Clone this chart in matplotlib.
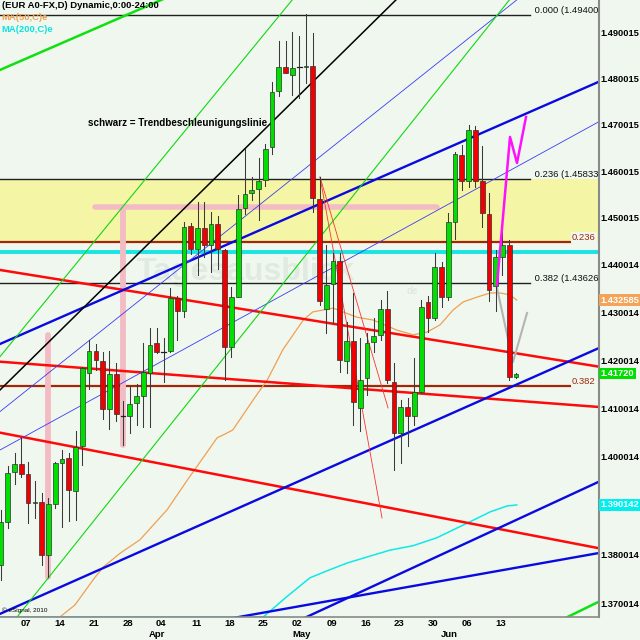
import numpy as np
import matplotlib
matplotlib.use("Agg")
import matplotlib.pyplot as plt
from matplotlib.transforms import blended_transform_factory
from matplotlib.ticker import NullLocator, NullFormatter

plt.rcParams['font.family'] = ['Liberation Sans', 'DejaVu Sans']
BG = "#eff7ef"

# ---------------- daily candles (bar index 0..76) ----------------
opens = [1.3779, 1.3866, 1.3969, 1.3984, 1.3965, 1.3904, 1.3908, 1.3799, 1.3903, 1.3988,
         1.3997, 1.3930, 1.4021, 1.4174, 1.4219, 1.4198, 1.4098, 1.4171, 1.4083, 1.4083,
         1.4110, 1.4126, 1.4174, 1.4236, 1.4218, 1.4219, 1.4331, 1.4304, 1.4483, 1.4433,
         1.4478, 1.4442, 1.4487, 1.4432, 1.4228, 1.4333, 1.4522, 1.4553, 1.4561, 1.4581,
         1.4651, 1.4773, 1.4825, 1.4808, 1.4825, 1.4825, 1.4828, 1.4540, 1.4308, 1.4359,
         1.4409, 1.4199, 1.4240, 1.4100, 1.4162, 1.4237, 1.4253, 1.4307, 1.4155, 1.4049,
         1.4103, 1.4084, 1.4134, 1.4321, 1.4289, 1.4396, 1.4333, 1.4492, 1.4635, 1.4579,
         1.4689, 1.4578, 1.4508, 1.4356, 1.4418, 1.4442, 1.4164]
highs = [1.3891, 1.3980, 1.4007, 1.4038, 1.3990, 1.3949, 1.3925, 1.3915, 1.3990, 1.4014,
         1.4007, 1.4052, 1.4186, 1.4242, 1.4234, 1.4218, 1.4219, 1.4194, 1.4115, 1.4147,
         1.4150, 1.4235, 1.4268, 1.4268, 1.4247, 1.4351, 1.4334, 1.4492, 1.4490, 1.4535,
         1.4535, 1.4513, 1.4504, 1.4434, 1.4354, 1.4549, 1.4647, 1.4588, 1.4628, 1.4658,
         1.4793, 1.4883, 1.4883, 1.4902, 1.4894, 1.4941, 1.4900, 1.4588, 1.4442, 1.4425,
         1.4425, 1.4279, 1.4340, 1.4246, 1.4256, 1.4288, 1.4326, 1.4346, 1.4194, 1.4117,
         1.4121, 1.4204, 1.4326, 1.4335, 1.4425, 1.4406, 1.4511, 1.4642, 1.4656, 1.4700,
         1.4697, 1.4654, 1.4553, 1.4432, 1.4493, 1.4453, 1.4174]
lows = [1.3749, 1.3854, 1.3944, 1.3959, 1.3864, 1.3874, 1.3779, 1.3755, 1.3894, 1.3857,
        1.3869, 1.3870, 1.3983, 1.4140, 1.4180, 1.4078, 1.4057, 1.4074, 1.4023, 1.4048,
        1.4065, 1.4062, 1.4062, 1.4215, 1.4155, 1.4217, 1.4242, 1.4291, 1.4423, 1.4379,
        1.4416, 1.4386, 1.4391, 1.4159, 1.4207, 1.4332, 1.4508, 1.4538, 1.4496, 1.4568,
        1.4637, 1.4762, 1.4812, 1.4764, 1.4757, 1.4790, 1.4513, 1.4316, 1.4256, 1.4278,
        1.4176, 1.4173, 1.4065, 1.4052, 1.4128, 1.4218, 1.4242, 1.4152, 1.3973, 1.3986,
        1.4021, 1.4065, 1.4131, 1.4258, 1.4284, 1.4312, 1.4326, 1.4455, 1.4560, 1.4567,
        1.4567, 1.4481, 1.4323, 1.4302, 1.4379, 1.4159, 1.4163]
closes = [1.3867, 1.3967, 1.3984, 1.3965, 1.3904, 1.3908, 1.3799, 1.3902, 1.3986, 1.3995,
          1.3932, 1.4019, 1.4183, 1.4219, 1.4200, 1.4098, 1.4171, 1.4088, 1.4083, 1.4109,
          1.4125, 1.4175, 1.4232, 1.4218, 1.4218, 1.4331, 1.4304, 1.4481, 1.4433, 1.4478,
          1.4442, 1.4487, 1.4433, 1.4228, 1.4332, 1.4520, 1.4550, 1.4560, 1.4579, 1.4648,
          1.4770, 1.4825, 1.4812, 1.4823, 1.4825, 1.4828, 1.4542, 1.4323, 1.4357, 1.4409,
          1.4200, 1.4240, 1.4112, 1.4159, 1.4235, 1.4251, 1.4307, 1.4159, 1.4049, 1.4103,
          1.4083, 1.4134, 1.4311, 1.4289, 1.4396, 1.4333, 1.4491, 1.4636, 1.4579, 1.4689,
          1.4578, 1.4510, 1.4347, 1.4416, 1.4442, 1.4164, 1.4172]

# ---------------- moving averages (read at sample bars) ----------------
ma50_x = [-1.0, 8.7, 10.9, 13.6, 15.1, 17.6, 20.5, 24.5, 27.5, 31.9, 33.1, 34.2, 37.2, 39.3,
          41.6, 44.6, 46.0, 49.0, 52.5, 54.9, 58.4, 60.8, 62.9, 64.8, 66.7, 68.2, 70.2,
          72.2, 73.6, 75.1, 76.1]
ma50_y = [1.3674, 1.3674, 1.3698, 1.3749, 1.3775, 1.3803, 1.3830, 1.3891, 1.3952, 1.4039,
          1.4047, 1.4055, 1.4117, 1.4159, 1.4222, 1.4284, 1.4301, 1.4309, 1.4290, 1.4284,
          1.4263, 1.4253, 1.4259, 1.4274, 1.4305, 1.4322, 1.4332, 1.4341, 1.4341, 1.4337,
          1.4326]
ma200_x = [-1.0, 38.7, 40.4, 42.1, 43.8, 45.6, 48.1, 51.1, 54.0, 57.4, 60.8, 64.3, 67.3,
           69.7, 72.2, 74.7, 76.1]
ma200_y = [1.3674, 1.3674, 1.3694, 1.3714, 1.3733, 1.3753, 1.3767, 1.3783, 1.3795, 1.3809,
           1.3818, 1.3834, 1.3854, 1.3870, 1.3887, 1.3899, 1.3901]

# ---------------- drawings ----------------
fib_black_levels = [1.494005, 1.458336, 1.436269]
fib_black_names = ["0.000", "0.236", "0.382"]
fib_brown_levels = [1.44495, 1.41462]
fib_brown_names = ["0.236", "0.382"]
cyan_level = 1.44282

# trend lines (x0, p0, x1, p1), extended across the chart
red_lines = [(-0.15, 1.43895, 88.24, 1.41864),
             (-0.15, 1.41968, 88.24, 1.41026),
             (-0.15, 1.40495, 88.24, 1.38128)]
blue_thick = [(-0.15, 1.42338, 88.24, 1.47933),
              (-0.15, 1.36802, 88.24, 1.42254),
              (56.91, 1.37487, 88.24, 1.39487),
              (35.12, 1.36740, 88.24, 1.38032)]
blue_thin = [(-0.15, 1.40137, 88.24, 1.47066),
             (16.82, 1.42841, 47.07, 1.46311)]
green_thick = [(-0.15, 1.48188, 23.61, 1.49719),
               (83.71, 1.36747, 88.24, 1.37049)]
green_thin = [(-0.15, 1.42073, 35.71, 1.48405),
              (6.74, 1.37487, 39.69, 1.43261)]
black_trend = [(-0.15, 1.41379, 49.28, 1.48405)]
thin_red_fan = [(47.07, 1.45876, 56.22, 1.38745),
                (47.07, 1.45876, 57.11, 1.41006)]

pink_h = (13.87, 64.34, 1.45233)
pink_v = [(18.0, 1.45233, 1.4024), (6.98, 1.42527, 1.37554)]

magenta_x = [73.19, 75.11, 76.14, 77.47]
magenta_y = [1.43578, 1.46736, 1.46176, 1.47168]
gray_x = [73.19, 75.55, 77.62]
gray_y = [1.43514, 1.41962, 1.42988]

date_tick_pos = [3.6, 8.7, 13.7, 18.7, 23.6, 28.8, 33.8, 38.7, 43.7, 48.8, 53.8, 58.7, 63.7, 68.7, 73.8]
date_tick_labels = ["07", "14", "21", "28", "04", "11", "18", "25", "02", "09", "16", "23", "30", "06", "13"]
month_pos = [23.0, 44.4, 66.1]
month_labels = ["Apr", "May", "Jun"]

price_ticks = [1.490015, 1.480015, 1.470015, 1.460015, 1.450015, 1.440014, 1.430014,
               1.420014, 1.410014, 1.400014, 1.380014, 1.370014]
price_tick_labels = ["%.6f" % v for v in price_ticks]

last_boxes = [(1.432585, "1.432585", "#f4a458"), (1.41720, "1.41720", "#00e000"),
              (1.390142, "1.390142", "#00f0f0")]

# ---------------- figure ----------------
fig = plt.figure(figsize=(6.4, 6.4), dpi=100, facecolor=BG)
W, H = 599.0, 617.0
ax = fig.add_axes([0, 1 - H / 640, W / 640, H / 640])
ax.set_facecolor(BG)
ax.set_yscale('log')
XMIN, XMAX = -0.1476, 88.24
ax.set_xlim(XMIN, XMAX)
ax.set_ylim(1.367394, 1.497194)

def ext(x0, p0, x1, p1, xa=-3.0, xb=95.0):
    s = (np.log(p1) - np.log(p0)) / (x1 - x0)
    return [xa, xb], [np.exp(np.log(p0) + s * (xa - x0)), np.exp(np.log(p0) + s * (xb - x0))]

def px(v):
    return v / W

def py(v):
    return 1 - v / H

# yellow zone
ax.fill_between([XMIN, XMAX], fib_brown_levels[0], fib_black_levels[1], color="#f5f5a6", zorder=0.5, lw=0)

# watermark
ax.text(px(137), py(272), "Tagesausblick", transform=ax.transAxes, fontsize=23, fontweight='bold',
        color="#e0eae0", va='center', ha='left', zorder=0.8)
ax.text(px(407), py(291), "de", transform=ax.transAxes, fontsize=7, fontweight='bold',
        color="#e0eae0", va='center', ha='left', zorder=0.8)

# horizontal levels
xend_black = (530 - 1) / 6.777
for lv in fib_black_levels:
    ax.plot([XMIN, xend_black], [lv, lv], color="#202020", lw=1.0, zorder=1)
xend_brown = (571 - 1) / 6.777
for lv in fib_brown_levels:
    ax.plot([XMIN, xend_brown], [lv, lv], color="#a02808", lw=1.6, zorder=1)
ax.plot([XMIN, XMAX], [cyan_level, cyan_level], color="#18e4e4", lw=2.8, zorder=1)

# pink range marks
ax.plot([pink_h[0], pink_h[1]], [pink_h[2], pink_h[2]], color="#f3bcc4", lw=4.0,
        solid_capstyle='round', zorder=1.5)
for xv, a, b in pink_v:
    ax.plot([xv, xv], [a, b], color="#f3bcc4", lw=4.2, solid_capstyle='round', zorder=1.5)

# moving averages
ax.plot(ma50_x, ma50_y, color="#f0a050", lw=0.9, zorder=2)
ax.plot(ma200_x, ma200_y, color="#10e8e8", lw=1.1, zorder=2)

# trend lines
for l in red_lines:
    ax.plot(*ext(*l), color="#ff0a0a", lw=1.8, zorder=2)
for l in blue_thick:
    ax.plot(*ext(*l), color="#0a0ae0", lw=1.7, zorder=2)
for l in blue_thin:
    ax.plot(*ext(*l), color="#3c3cf0", lw=0.6, zorder=2)
for l in green_thick:
    ax.plot(*ext(*l), color="#10e010", lw=1.8, zorder=2)
for l in green_thin:
    ax.plot(*ext(*l), color="#10d810", lw=0.8, zorder=2)
for l in black_trend:
    ax.plot(*ext(*l), color="#000000", lw=1.1, zorder=2)
for x0, p0, x1, p1 in thin_red_fan:
    ax.plot([x0, x1], [p0, p1], color="#ff3030", lw=0.6, zorder=2)

ax.plot(gray_x, gray_y, color="#b4b4b4", lw=1.5, zorder=2.5)

# candles
xs = np.arange(len(opens))
for i in xs:
    o, h, l, c = opens[i], highs[i], lows[i], closes[i]
    ax.plot([i, i], [l, h], color="#3a3a3a", lw=0.75, zorder=3)
    if abs(c - o) < 1e-9:
        ax.plot([i - 0.35, i + 0.35], [o, o], color="#202020", lw=0.9, zorder=3.2)
        continue
    col = "#00e000" if c > o else "#f00000"
    ax.bar(i, abs(c - o), bottom=min(o, c), width=0.7, color=col, edgecolor="#303030",
           linewidth=0.5, zorder=3.1)

ax.plot(magenta_x, magenta_y, color="#ff10ff", lw=1.8, zorder=4)

# axes cosmetics
for s in ['top', 'left']:
    ax.spines[s].set_visible(False)
ax.spines['right'].set_color("#8a8a8a")
ax.spines['right'].set_linewidth(1.5)
ax.spines['bottom'].set_color("#8a8a8a")
ax.spines['bottom'].set_linewidth(1.2)

ax.yaxis.tick_right()
ax.set_yticks(price_ticks)
ax.set_yticklabels(price_tick_labels)
ax.yaxis.set_minor_locator(NullLocator())
ax.yaxis.set_minor_formatter(NullFormatter())
ax.tick_params(axis='y', length=0, pad=1.2, labelsize=6.7)
for t in ax.get_yticklabels():
    t.set_fontweight('bold')

ax.set_xticks(date_tick_pos)
ax.set_xticklabels(date_tick_labels)
ax.tick_params(axis='x', length=0, pad=1.5, labelsize=6.8)
for t in ax.get_xticklabels():
    t.set_fontweight('bold')

trans_xd = blended_transform_factory(ax.transData, ax.transAxes)
for mp, ml in zip(month_pos, month_labels):
    ax.text(mp, py(634), ml, transform=trans_xd, ha='center', va='center', fontsize=6.8,
            fontweight='bold', clip_on=False)

trans_ay = blended_transform_factory(ax.transAxes, ax.transData)
for val, txt, col in last_boxes:
    ax.text(1.0 + 1.5 / W, val, txt, transform=trans_ay, ha='left', va='center', fontsize=6.7,
            fontweight='bold', color='white', clip_on=False, zorder=6,
            bbox=dict(boxstyle='square,pad=0.15', fc=col, ec='none'))

# fib labels
for lv, nm in zip(fib_black_levels, fib_black_names):
    ax.text(px(532), lv, " %s (%.6f" % (nm, lv), transform=trans_ay, ha='left', va='bottom',
            fontsize=6.8, color="#101010", clip_on=True, zorder=5)
for lv, nm in zip(fib_brown_levels, fib_brown_names):
    ax.text(px(572), lv, nm, transform=trans_ay, ha='left', va='bottom', fontsize=6.8,
            color="#a02808", zorder=5,
            bbox=dict(boxstyle='square,pad=0.1', fc=BG, ec='none'))

# header texts
ax.text(px(2), py(5), "(EUR A0-FX,D) Dynamic,0:00-24:00", transform=ax.transAxes, fontsize=6.8,
        fontweight='bold', va='center', ha='left', zorder=6)
ax.text(px(1), py(17), "MA(50,C)e", transform=ax.transAxes, fontsize=6.8, fontweight='bold',
        color="#f0a050", va='center', ha='left', zorder=6)
ax.text(px(1), py(30), "MA(200,C)e", transform=ax.transAxes, fontsize=6.8, fontweight='bold',
        color="#10e0e0", va='center', ha='left', zorder=6)
ax.text(px(88), py(123), "schwarz = Trendbeschleunigungslinie", transform=ax.transAxes,
        fontsize=7.1, fontweight='bold', va='center', ha='left', zorder=6)
ax.text(px(2), py(610), "\u00a9 eSignal, 2010", transform=ax.transAxes, fontsize=4.6,
        va='center', ha='left', zorder=6)

fig.savefig("out.png", dpi=100, facecolor=BG)
